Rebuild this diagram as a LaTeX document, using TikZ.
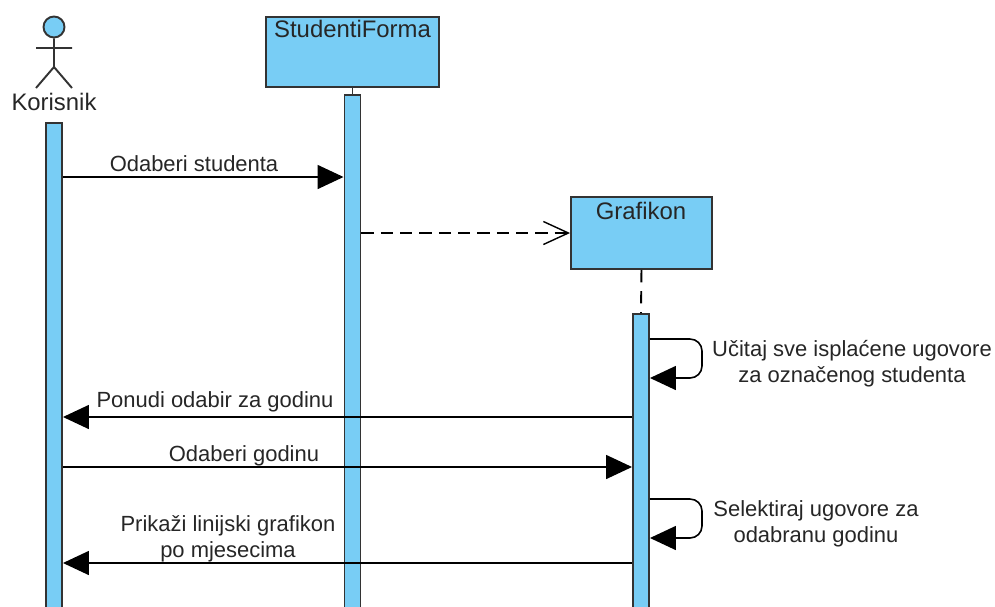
\documentclass[tikz,border=0pt]{standalone}
\usepackage{fontspec}
\setmainfont{Liberation Sans}
\usepackage{xcolor}
\usetikzlibrary{arrows.meta,positioning}
\definecolor{lifeblue}{HTML}{78CDF5}
\definecolor{linegray}{HTML}{333333}

\tikzset{
    lifebox/.style={draw=linegray, line width=1.1pt, fill=lifeblue, inner sep=0pt},
    lifebar/.style={lifebox, minimum width=0.32cm},
    msgtext/.style={font=\fontsize{12.5}{14.7}\selectfont, align=center, inner sep=0pt, text=black!85},
    headtext/.style={font=\fontsize{13.6}{16}\selectfont, inner sep=0pt, text=black!85},
    msg/.style={draw=black, line width=0.9pt, -{Triangle[length=0.52cm,width=0.48cm]}},
    reply/.style={draw=black, line width=0.9pt, dash pattern=on 7pt off 4pt, -{Straight Barb[length=0.5cm,width=0.46cm,line width=0.8pt]}},
    loopmsg/.style={msg, rounded corners=0.24cm}
}

\begin{document}
\begin{tikzpicture}[x=0.02cm,y=-0.02cm]
    \useasboundingbox (0,0) rectangle (995,606);
    \clip (0,0) rectangle (995,606);

    % Actor
    \node [lifebox, circle, minimum size=0.42cm] (head) at (54,27) {};
    \coordinate (hip) at (54,67);
    \coordinate (armL) at (36,48);
    \coordinate (armR) at (72,48);
    \coordinate (legL) at (36,88);
    \coordinate (legR) at (72,88);
    \draw [draw=linegray, line width=1.1pt] (head) -- (hip) (armL) -- (armR) (legL) -- (hip) -- (legR);
    \node [headtext] (korisnik) at (54,102) {Korisnik};

    % Life lines
    \node [lifebox, minimum width=3.46cm, minimum height=1.4cm] (forma) at (352.5,52) {};
    \node [headtext, anchor=north] (formaText) at (352.5,20) {StudentiForma};
    \node [lifebox, minimum width=2.82cm, minimum height=1.44cm] (grafikon) at (641.5,233) {};
    \node [headtext, anchor=north] (grafikonText) at (641,202) {Grafikon};

    \node [lifebar, minimum height=10cm] (barKorisnik) at (54,373) {};
    \node [lifebar, minimum height=10.6cm] (barForma) at (352.5,360) {};
    \node [lifebar, minimum height=6.4cm] (barGrafikon) at (641,474) {};

    \draw [draw=linegray, line width=1.1pt] (forma.south) -- (barForma.north);
    \draw [draw=black, line width=1.1pt, dash pattern=on 7pt off 5pt] (grafikon.south) -- (barGrafikon.north);

    % Levels of the messages
    \coordinate (lvlStudent) at (0,177);
    \coordinate (lvlCreate) at (0,233);
    \coordinate (lvlLoadA) at (0,339);
    \coordinate (lvlLoadB) at (0,378);
    \coordinate (lvlOffer) at (0,417);
    \coordinate (lvlYear) at (0,467);
    \coordinate (lvlSelectA) at (0,499);
    \coordinate (lvlSelectB) at (0,538);
    \coordinate (lvlShow) at (0,563);
    \coordinate (loopEdge) at (702,0);

    % Messages
    \draw [msg] (barKorisnik.east |- lvlStudent) -- (barForma.west |- lvlStudent);
    \draw [reply] (barForma.east |- lvlCreate) -- (grafikon.west |- lvlCreate);
    \draw [loopmsg] (barGrafikon.east |- lvlLoadA) -- (loopEdge |- lvlLoadA) -- (loopEdge |- lvlLoadB) -- (barGrafikon.east |- lvlLoadB);
    \draw [msg] (barGrafikon.west |- lvlOffer) -- (barKorisnik.east |- lvlOffer);
    \draw [msg] (barKorisnik.east |- lvlYear) -- (barGrafikon.west |- lvlYear);
    \draw [loopmsg] (barGrafikon.east |- lvlSelectA) -- (loopEdge |- lvlSelectA) -- (loopEdge |- lvlSelectB) -- (barGrafikon.east |- lvlSelectB);
    \draw [msg] (barGrafikon.west |- lvlShow) -- (barKorisnik.east |- lvlShow);

    % Labels
    \node [msgtext] (txtStudent) at (194,164) {Odaberi studenta};
    \node [msgtext] (txtLoad) at (852,364) {Učitaj sve isplaćene ugovore\\za označenog studenta};
    \node [msgtext] (txtOffer) at (215,402) {Ponudi odabir za godinu};
    \node [msgtext] (txtYear) at (244,456) {Odaberi godinu};
    \node [msgtext] (txtSelect) at (816,524) {Selektiraj ugovore za\\odabranu godinu};
    \node [msgtext] (txtShow) at (228,539) {Prikaži linijski grafikon\\po mjesecima};
\end{tikzpicture}
\end{document}
